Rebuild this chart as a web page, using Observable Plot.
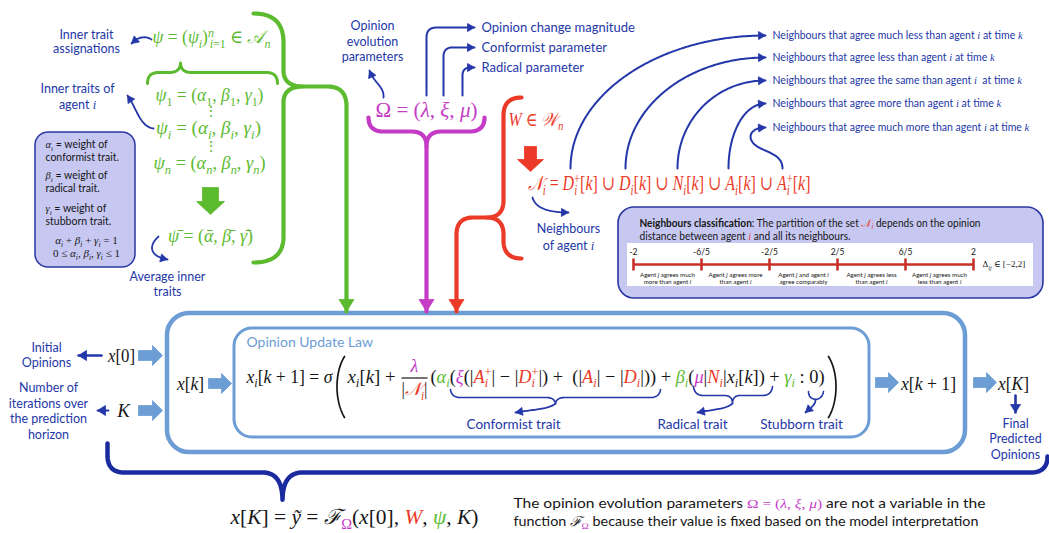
<!DOCTYPE html>
<html><head><meta charset="utf-8">
<script src="https://cdn.jsdelivr.net/npm/d3@7"></script>
<script src="https://cdn.jsdelivr.net/npm/@observablehq/plot@0.6"></script>
<style>html,body{margin:0;padding:0;background:#fff;}#chart{width:1049px;height:533px;overflow:hidden}</style>
</head><body><div id="chart"></div>
<script>
// ---------------- content (texts & values) ----------------
const sideLabels = ["Inner trait","assignations","Inner traits of","agent {s|{i|i}}","Average inner","traits",
  "Opinion","evolution","parameters","Neighbours","of agent {s|{i|i}}",
  "Initial","Opinions","Number of","iterations over","the prediction","horizon",
  "Final","Predicted","Opinions"];
const paramLabels = ["Opinion change magnitude","Conformist parameter","Radical parameter"];
const neighbourLabels = [
  "Neighbours that agree much less than agent {s|{i|i}} at time {s|{i|k}}",
  "Neighbours that agree less than agent {s|{i|i}} at time {s|{i|k}}",
  "Neighbours that agree the same than agent {s|{i|i}}  at time {s|{i|k}}",
  "Neighbours that agree more than agent {s|{i|i}} at time {s|{i|k}}",
  "Neighbours that agree much more than agent {s|{i|i}} at time {s|{i|k}}"];
const traitLabels = ["Conformist trait","Radical trait","Stubborn trait"];
const legendLines = ["{s|{i|α}{u|{i|i}}} = weight of","conformist trait.","{s|{i|β}{u|{i|i}}} = weight of","radical trait.",
  "{s|{i|γ}{u|{i|i}}} = weight of","stubborn trait."];
const legendRules = ["{s|{i|α}{u|{i|i}} + {i|β}{u|{i|i}} + {i|γ}{u|{i|i}} = 1}","{s|0 ≤ {i|α}{u|{i|i}}, {i|β}{u|{i|i}}, {i|γ}{u|{i|i}} ≤ 1}"];
const classTitle = ["{B|Neighbours classification}: The partition of the set {s|{r|{i|𝒩}{u|{i|i}}}} depends on the opinion",
  "distance between agent {s|{r|{i|i}}} and all its neighbours."];
const distValues = [-2, -6/5, -2/5, 2/5, 6/5, 2];
const distLabels = ["-2","-6/5","-2/5","2/5","6/5","2"];
const segmentLabels = [["Agent {i|j} agrees much","more than agent {i|i}"],["Agent {i|j} agrees more","than agent {i|i}"],
  ["Agent {i|j} and agent {i|i}","agree comparably"],["Agent {i|j} agrees less","than agent {i|i}"],["Agent {i|j} agrees much","less than agent {i|i}"]];
const deltaLabel = "Δ{u|{i|ij}} ∈ [−2,2]";
const lawTitle = "Opinion Update Law";
const greenFormulas = ["{i|ψ} = ({i|ψ}{u|{i|i}}){p|{i|n}}{ux24|{i|i}=1} ∈ {i|𝒜}{u|{i|n}}",
  "{i|ψ}{u|1} = ({i|α}{u|1}, {i|β}{u|1}, {i|γ}{u|1})","⋮",
  "{i|ψ}{u|{i|i}} = ({i|α}{u|{i|i}}, {i|β}{u|{i|i}}, {i|γ}{u|{i|i}})","⋮",
  "{i|ψ}{u|{i|n}} = ({i|α}{u|{i|n}}, {i|β}{u|{i|n}}, {i|γ}{u|{i|n}})",
  "{i|ψ̄} = ({i|ᾱ}, {i|β̄}, {i|γ̄})"];
const omegaFormula = "Ω = ({i|λ}, {i|ξ}, {i|μ})";
const graphFormula = "{i|W} ∈ {i|𝒲}{u|{i|n}}";
const neighbourFormula = "{i|𝒩}{u|{i|i}} = {i|D}{u|{i|i}}{px20|+}[{i|k}] ∪ {i|D}{u|{i|i}}[{i|k}] ∪ {i|N}{u|{i|i}}[{i|k}] ∪ {i|A}{u|{i|i}}[{i|k}] ∪ {i|A}{u|{i|i}}{px20|+}[{i|k}]";
const lawParts = ["{i|x}{u|{i|i}}[{i|k} + 1] = {i|σ}","{i|x}{u|{i|i}}[{i|k}] +","{m|{i|λ}}","|{r|{i|𝒩}{u|{i|i}}}|",
  "({g|{i|α}{u|{i|i}}}({m|{i|ξ}}(|{r|{i|A}{u|{i|i}}{px20|+}}| − |{r|{i|D}{u|{i|i}}{px20|+}}|) +  (|{r|{i|A}{u|{i|i}}}| − |{r|{i|D}{u|{i|i}}}|)) + {g|{i|β}{u|{i|i}}}({m|{i|μ}}|{r|{i|N}{u|{i|i}}}|{i|x}{u|{i|i}}[{i|k}]) + {g|{i|γ}{u|{i|i}}} : 0)"];
const flowFormulas = ["{i|x}[0]","{i|K}","{i|x}[{i|k}]","{i|x}[{i|k} + 1]","{i|x}[{i|K}]"];
const outputFormula = "{i|x}[{i|K}] = {i|ỹ} = {i|ℱ}{u|{m|Ω}}({i|x}[0], {r|{i|W}}, {g|{i|ψ}}, {i|K})";
const noteLines = ["The opinion evolution parameters {m|{s|Ω = ({i|λ}, {i|ξ}, {i|μ})}} are not a variable in the",
  "function {s|{i|ℱ}{u|{m|Ω}}} because their value is fixed based on the model interpretation"];

// ---------------- styles ----------------
const GREEN="#5cba2f", MAG="#c43cc6", RED="#ec3a28", NAVY="#2437a8", DNAVY="#1b2a9e", LBLUE="#6c9dd4",
      INK="#161616", BOXFILL="#c6c8f2", BOXLINE="#2b36a3", AXRED="#c8312a";
const SANS="Lato, 'Open Sans', sans-serif", SERIF="'Liberation Serif', 'DejaVu Serif', serif";
const W=1049, H=533;

// ---------------- layout ----------------
const sidePos = [[86,34],[86,48],[77,88],[77,104],[167,276],[167,291],
  [372,25],[372,41],[372,56],[568,228],[568,245],
  [46,347],[46,362],[48,387],[48,403],[48,418],[48,434],
  [1015,423],[1015,438],[1015,454]];
const paramPos = [[481,27],[481,47],[481,67]];
const neighbourY = [35,57,80,103,127];
const traitPos = [[513,424],[692,424],[801,424]];
const legendPos = [[45,144],[45,157],[45,175],[45,188],[45,208],[45,221]];
const legendRulePos = [[86,240],[86,253]];
const greenPos = [[152,37,"start",118],[209,95,"middle",108],[210,111,"middle",0],[208,128,"middle",105],[210,146,"middle",0],[209,163,"middle",112],[210,236,"middle",85]];
const flowPos = [[121,355,27],[123,410,0],[190,383,27],[928,383,55],[1013,383,31]];
const numLine = {x0:633, x1:973, y:264};
const distX = v => numLine.x0 + (v - distValues[0]) / (distValues[5] - distValues[0]) * (numLine.x1 - numLine.x0);

// ---------------- geometry helpers ----------------
const NS="http://www.w3.org/2000/svg";
function samplePath(d, id, step=1.5){
  const svg=document.createElementNS(NS,"svg"), p=document.createElementNS(NS,"path");
  p.setAttribute("d",d); svg.appendChild(p); document.body.appendChild(svg);
  const L=p.getTotalLength(), n=Math.max(2,Math.ceil(L/step)), pts=[];
  for(let k=0;k<=n;k++){const q=p.getPointAtLength(L*k/n); pts.push({x:q.x,y:q.y,id});}
  svg.remove(); return pts;
}
function headPoly(pts,len,half,id){
  const t=pts[pts.length-1]; let b=pts[Math.max(0,pts.length-4)];
  let dx=t.x-b.x, dy=t.y-b.y; const m=Math.hypot(dx,dy)||1; dx/=m; dy/=m;
  const bx=t.x-dx*len, by=t.y-dy*len;
  return [{x:t.x,y:t.y,id},{x:bx-dy*half,y:by+dx*half,id},{x:bx+dy*half,y:by-dx*half,id},{x:t.x,y:t.y,id}];
}
function blockArrow(x1,y1,x2,y2,sw,hw,hl,id){
  let dx=x2-x1, dy=y2-y1; const m=Math.hypot(dx,dy); dx/=m; dy/=m; const px=-dy, py=dx;
  const bx=x2-dx*hl, by=y2-dy*hl;
  return [[x1+px*sw/2,y1+py*sw/2],[bx+px*sw/2,by+py*sw/2],[bx+px*hw/2,by+py*hw/2],[x2,y2],
          [bx-px*hw/2,by-py*hw/2],[bx-px*sw/2,by-py*sw/2],[x1-px*sw/2,y1-py*sw/2],[x1+px*sw/2,y1+py*sw/2]]
         .map(([x,y])=>({x,y,id}));
}

// curves: [d, colour, width, headLen, headHalf]
const curves = [
  ["M253,13 Q283,13 283,42 L283,70 Q283,86 303,86 Q283,86 283,102 L283,236 Q283,262 253,262",GREEN,4.2,0,0],
  ["M303,86 L327,86 Q346,86 346,106 L346,311",GREEN,4.2,12,7.5],
  ["M147,83 Q147,72 158,72 L169,72 Q180,72 180,62 Q180,72 191,72 L266,72 Q277,72 277,83",GREEN,3,0,0],
  ["M368,117 Q368,131 383,131 L411,131 Q426,131 426,146 Q426,131 441,131 L469,131 Q484,131 484,117",MAG,4.2,0,0],
  ["M426,146 L426,311",MAG,4.2,12,7.5],
  ["M521,97 Q503,97 503,115 L503,200 Q503,217 486,217 Q503,217 503,234 L503,240 Q503,258 521,258",RED,4.2,0,0],
  ["M486,217 L473,217 Q456,217 456,234 L456,311",RED,4.2,12,7.5],
  ["M107,443 L107,455 Q107,472 124,472 L262,472 Q282,472 282,500 Q282,472 302,472 L1030,472 Q1047,472 1047,456",DNAVY,4.5,0,0],
  ["M151,39 Q141,33 131,43",NAVY,1.8,7,4],
  ["M153,128 C139,126 136,107 127,95",NAVY,1.8,7,4],
  ["M158,236 C147,246 150,256 167,259",NAVY,1.8,7,4],
  ["M383,97 C384,86 373,82 369,70",NAVY,1.8,7,4],
  ["M426,95 L426,37 Q426,27 436,27 L474,27",NAVY,2,7,4],
  ["M443,95 L443,56 Q443,47 452,47 L474,47",NAVY,2,7,4],
  ["M462,95 L462,75 Q462,67 470,67 L474,67",NAVY,2,7,4],
  ["M532,197 Q536,212 568,212",NAVY,1.8,7,4],
  ["M570,168 C570,95 657,35 765,35",NAVY,2,7,4],
  ["M625,168 C625,107 687,57 765,57",NAVY,2,7,4],
  ["M677,168 C677,119 716,80 765,80",NAVY,2,7,4],
  ["M728,168 C728,132 744,103 765,103",NAVY,2,7,4],
  ["M782,168 C782,152 762,152 753,143 C746,135 752,127 765,127",NAVY,2,7,4],
  ["M450,389 Q451,397 460,397 L545,397 Q555,397 555,404 Q555,397 565,397 L650,397 Q659,397 660,389",NAVY,1.6,0,0],
  ["M693,386 Q694,395 703,395 L724,395 Q732,395 732,403 Q732,395 740,395 L762,395 Q771,395 772,386",NAVY,1.6,0,0],
  ["M808,391 Q808,398 815,399 Q822,398 823,391",NAVY,1.6,0,0],
  ["M555,403 C548,409 532,409 515,412",NAVY,1.8,7,4],
  ["M732,403 C725,409 712,409 697,412",NAVY,1.8,7,4],
  ["M815,399 C815,405 810,407 805,412",NAVY,1.8,7,4],
  ["M101,355 L78,355",NAVY,2.6,8,5],
  ["M108,410 L97,410",NAVY,2,8,5],
  ["M1015,395 L1015,412",NAVY,2.6,8,5],
  ["M344,356 C334,372 334,400 344,417",INK,1.7,0,0],
  ["M828,356 C838,372 838,400 828,417",INK,1.7,0,0]
];
const blocks = [
  [210,187,210,214,16,28,13,GREEN],[530,146,530,171,12,26,12,RED],
  [138,355,162,355,10,20,10,LBLUE],[138,410,162,410,10,20,10,LBLUE],[208,383,231,383,10,20,10,LBLUE],
  [875,382,898,382,10,20,10,LBLUE],[973,382,996,382,10,20,10,LBLUE]
];

// ---------------- build mark data ----------------
const lineGroups = new Map(), polyGroups = new Map();
const addTo=(map,key,arr)=>{ if(!map.has(key)) map.set(key,[]); map.get(key).push(...arr); };
curves.forEach(([d,c,w,hl,hh],k)=>{
  const pts=samplePath(d,"c"+k);
  addTo(lineGroups,c+"|"+w,pts);
  if(hl) addTo(polyGroups,c,headPoly(pts,hl,hh,"h"+k));
});
blocks.forEach(([x1,y1,x2,y2,sw,hw,hl,c],k)=>addTo(polyGroups,c,blockArrow(x1,y1,x2,y2,sw,hw,hl,"b"+k)));

const boxes = [
  {x1:167,x2:965,y1:313,y2:452,rx:22},
  {x1:234,x2:869,y1:328,y2:437,rx:18},
  {x1:35,x2:135,y1:132,y2:267,rx:13},
  {x1:618,x2:1043,y1:207,y2:298,rx:16},
  {x1:627,x2:1033,y1:243,y2:286,rx:0}
];

const T = (text,x,y,o={}) => ({text,x,y,...o});
const labelRows = sideLabels.map((t,k)=>T(t,sidePos[k][0],sidePos[k][1]));
const paramRows = paramLabels.map((t,k)=>T(t,paramPos[k][0],paramPos[k][1]));
const neighRows = neighbourLabels.map((t,k)=>T(t,772,neighbourY[k]));
const traitRows = traitLabels.map((t,k)=>T(t,traitPos[k][0],traitPos[k][1]));
const legendRows = legendLines.map((t,k)=>T(t,legendPos[k][0],legendPos[k][1]));
const legendRuleRows = legendRules.map((t,k)=>T(t,legendRulePos[k][0],legendRulePos[k][1]));
const classRows = [T("§341§"+classTitle[0],639,222.5),T("§211§"+classTitle[1],639,236)];
const tickRows = distValues.map((v,k)=>T(distLabels[k],distX(v),251.5));
const segRows = segmentLabels.flatMap((lines,k)=>lines.map((l,j)=>T(l,(distX(distValues[k])+distX(distValues[k+1]))/2,275+j*7)));
const tickLinks = distValues.map(v=>({x1:distX(v),x2:distX(v),y1:numLine.y-6,y2:numLine.y+6}));

const mathStart = [], mathMid = [];
greenFormulas.forEach((f,k)=>{ const [x,y,a,w]=greenPos[k]; (a==="start"?mathStart:mathMid).push(T((w?"§"+w+"§":"")+f,x,y,{fs:k===2||k===4?14:18.5,c:GREEN})); });
mathMid.push(T("§102§"+omegaFormula,426,109,{fs:22,c:MAG}));
mathStart.push(T("§55§"+graphFormula,508,119,{fs:19,c:RED}));
mathStart.push(T("§283§"+neighbourFormula,527,183,{fs:20,c:RED}));
mathStart.push(T("§86§"+lawParts[0],246,376,{fs:19,c:INK}));
mathStart.push(T("§48§"+lawParts[1],347,376,{fs:19,c:INK}));
mathMid.push(T(lawParts[2],414,366,{fs:18,c:INK}));
mathMid.push(T("§26§"+lawParts[3],414,389,{fs:18,c:INK}));
mathStart.push(T("§394§"+lawParts[4],430,376,{fs:19,c:INK}));
flowFormulas.forEach((f,k)=>{ const [x,y,w]=flowPos[k]; mathMid.push(T((w?"§"+w+"§":"")+f,x,y,{fs:19,c:INK})); });
mathStart.push(T("§248§"+outputFormula,230,517,{fs:21,c:INK}));
mathStart.push(T(deltaLabel,982,264,{fs:9,c:INK}));
const noteRows = [T("§472§"+noteLines[0],513,503),T("§465§"+noteLines[1],513,521)];

const txt = (data,o) => Plot.text(data,{x:"x",y:"y",text:"text",lineAnchor:"middle",...o});
const box = (rx,o) => Plot.rect(boxes.filter(b=>b.rx===rx),{x1:"x1",x2:"x2",y1:"y1",y2:"y2",rx,...o});

const marks = [
  box(22,{fill:"none",stroke:LBLUE,strokeWidth:4.5}),
  box(18,{fill:"none",stroke:LBLUE,strokeWidth:3}),
  box(13,{fill:BOXFILL,stroke:BOXLINE,strokeWidth:1.5}),
  box(16,{fill:BOXFILL,stroke:BOXLINE,strokeWidth:1.6}),
  box(0,{fill:"#fff"}),
  ...[...lineGroups].map(([key,pts])=>{const [c,w]=key.split("|"); return Plot.line(pts,{x:"x",y:"y",z:"id",stroke:c,strokeWidth:+w,strokeLinecap:"round",strokeLinejoin:"round"});}),
  ...[...polyGroups].map(([c,pts])=>Plot.line(pts,{x:"x",y:"y",z:"id",fill:c,stroke:c,strokeWidth:0.8,strokeLinejoin:"round"})),
  Plot.link([{x1:numLine.x0,x2:numLine.x1,y1:numLine.y,y2:numLine.y}],{x1:"x1",x2:"x2",y1:"y1",y2:"y2",stroke:AXRED,strokeWidth:2.6}),
  Plot.link(tickLinks,{x1:"x1",x2:"x2",y1:"y1",y2:"y2",stroke:AXRED,strokeWidth:2.6}),
  Plot.link([{x1:401,x2:427,y1:377.5,y2:377.5}],{x1:"x1",x2:"x2",y1:"y1",y2:"y2",stroke:INK,strokeWidth:1.2}),
  txt(labelRows,{fill:NAVY,fontSize:12.5,fontFamily:SANS}),
  txt(paramRows,{fill:NAVY,fontSize:13,fontFamily:SANS,textAnchor:"start"}),
  txt(neighRows,{fill:NAVY,fontSize:10.5,fontFamily:SANS,textAnchor:"start"}),
  txt(traitRows,{fill:NAVY,fontSize:13.5,fontFamily:SANS}),
  txt(legendRows,{fill:INK,fontSize:10.5,fontFamily:SANS,textAnchor:"start"}),
  txt(legendRuleRows,{fill:INK,fontSize:11,fontFamily:SANS}),
  txt(classRows,{fill:INK,fontSize:11,fontFamily:SANS,textAnchor:"start"}),
  txt(tickRows,{fill:INK,fontSize:8.5,fontFamily:SANS}),
  txt(segRows,{fill:INK,fontSize:6.2,fontFamily:SANS}),
  txt([T(lawTitle,246,342)],{fill:LBLUE,fontSize:14,fontFamily:SANS,textAnchor:"start"}),
  txt(noteRows,{fill:INK,fontSize:13.5,fontFamily:SANS,textAnchor:"start"}),
  txt(mathStart,{fill:"c",fontSize:"fs",fontFamily:SERIF,textAnchor:"start"}),
  txt(mathMid,{fill:"c",fontSize:"fs",fontFamily:SERIF})
];

const chart = Plot.plot({
  width:W, height:H, margin:0,
  x:{domain:[0,W],range:[0,W],axis:null},
  y:{domain:[0,H],range:[0,H],axis:null},
  style:{background:"#fff"},
  marks
});
document.getElementById("chart").appendChild(chart);

// ---------------- rich text (colours, italics, sub/superscripts) ----------------
const CODES={r:RED,g:GREEN,m:MAG,k:INK,b:NAVY};
function parseMarkup(s){
  const segs=[], stack=[{}]; let buf="", pendingDx=null;
  const flush=()=>{ if(buf){ const sg={t:buf,...stack[stack.length-1]}; if(pendingDx!=null){sg.dx=pendingDx;pendingDx=null;} segs.push(sg); buf=""; } };
  for(let j=0;j<s.length;j++){
    const m = s[j]==="{" ? /^\{([A-Za-z0-9]+)\|/.exec(s.slice(j)) : null;
    if(m){ flush(); const st={...stack[stack.length-1]}; const code=m[1]; let k=0;
      while(k<code.length){ const ch=code[k];
        if(ch==="x"){ let num=""; k++; while(k<code.length&&/\d/.test(code[k])) num+=code[k++]; pendingDx=-(+num)/100; continue; }
        if(CODES[ch]) st.fill=CODES[ch];
        else if(ch==="i") st.it=true; else if(ch==="n") st.it=false;
        else if(ch==="u") st.sh="sub"; else if(ch==="p") st.sh="sup";
        else if(ch==="B") st.bold=true; else if(ch==="s") st.serif=true;
        k++; }
      stack.push(st); j+=m[0].length-1; continue; }
    if(s[j]==="}"&&stack.length>1){ flush(); stack.pop(); continue; }
    buf+=s[j];
  }
  flush(); return segs;
}
chart.querySelectorAll("text").forEach(el=>{
  let raw=el.textContent;
  if(!raw.includes("{")&&!raw.startsWith("§")) return;
  let width=null; const wm=/^§(\d+(?:\.\d+)?)§/.exec(raw);
  if(wm){ width=+wm[1]; raw=raw.slice(wm[0].length); }
  const fs=parseFloat(getComputedStyle(el).fontSize)||12;
  const segs=parseMarkup(raw);
  while(el.firstChild) el.removeChild(el.firstChild);
  let off=0;
  segs.forEach(sg=>{
    const t=document.createElementNS(NS,"tspan"); t.textContent=sg.t;
    const target = sg.sh==="sub"?0.25*fs : sg.sh==="sup"?-0.36*fs : 0;
    if(target!==off){ t.setAttribute("dy",target-off); off=target; }
    if(sg.sh) t.setAttribute("font-size",0.68*fs);
    if(sg.dx) t.setAttribute("dx",sg.dx*fs);
    if(sg.fill) t.setAttribute("fill",sg.fill);
    if(sg.it===true) t.setAttribute("font-style","italic"); else if(sg.it===false) t.setAttribute("font-style","normal");
    if(sg.bold) t.setAttribute("font-weight","bold");
    if(sg.serif) t.setAttribute("font-family",SERIF);
    el.appendChild(t);
  });
  if(width){ el.setAttribute("textLength",width); el.setAttribute("lengthAdjust","spacingAndGlyphs"); }
});
</script>
</body></html>
